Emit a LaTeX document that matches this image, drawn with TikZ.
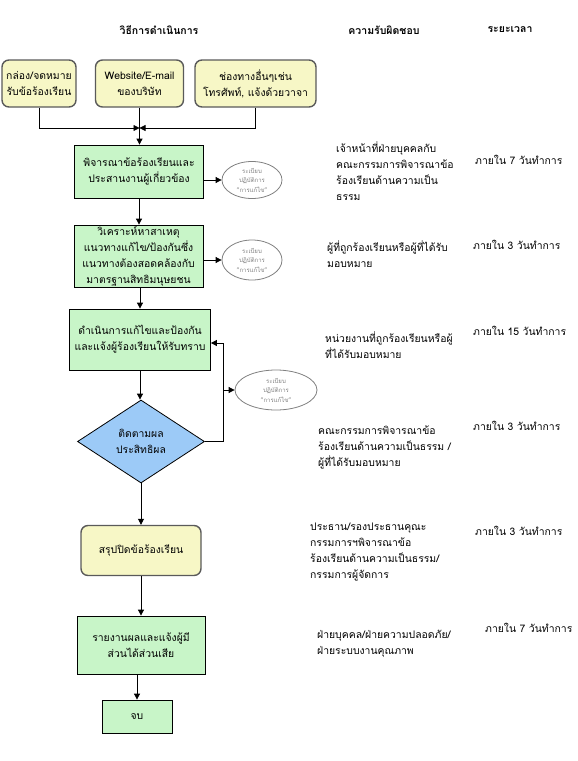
\documentclass[tikz,border=0pt]{standalone}
\usepackage{fontspec}
\setmainfont[Script=Thai]{Loma}
\usetikzlibrary{arrows.meta,shapes.geometric}
\definecolor{pgreen}{HTML}{C8F5C8}
\definecolor{pyellow}{HTML}{F7F7C6}
\definecolor{pblue}{HTML}{9CCAF7}
\definecolor{pborder}{HTML}{5A5A5A}
\definecolor{etext}{HTML}{808080}
\begin{document}
\begin{tikzpicture}[x=1pt,y=-1pt,
  every node/.style={font=\fontsize{10.4}{16}\selectfont, inner sep=0pt, align=center},
  proc/.style={draw=black, fill=pgreen, line width=0.8pt},
  startbox/.style={draw=pborder, fill=pyellow, line width=1.4pt, rounded corners=7pt},
  decision/.style={diamond, draw=black, fill=pblue, line width=0.8pt, minimum width=127pt, minimum height=83pt},
  regell/.style={ellipse, draw=gray, fill=white, line width=0.8pt, font=\fontsize{6}{9.5}\selectfont\color{etext}},
  head/.style={font=\fontsize{10.5}{12}\selectfont\bfseries},
  resp/.style={anchor=north west, align=left},
  timetxt/.style={anchor=north west, align=left},
  arr/.style={-{Triangle[length=6pt,width=6pt]}, line width=0.8pt},
  plain/.style={line width=0.8pt}]
\useasboundingbox (0,0) rectangle (578,761);

% headers
\node[head] (h1) at (159,30) {วิธีการดำเนินการ};
\node[head] (h2) at (384,30) {ความรับผิดชอบ};
\node[head] (h3) at (510,30) {ระยะเวลา};

% channel boxes
\node[startbox, minimum width=74pt, minimum height=47pt] (b1) at (39,83.5) {กล่อง/จดหมาย\\รับข้อร้องเรียน};
\node[startbox, minimum width=88pt, minimum height=47pt] (b2) at (139.5,83.5) {Website/E-mail\\ของบริษัท};
\node[startbox, minimum width=121pt, minimum height=47pt] (b3) at (255.5,83.5) {ช่องทางอื่นๆเช่น\\โทรศัพท์, แจ้งด้วยวาจา};

% process
\node[proc, minimum width=129pt, minimum height=53pt] (b4) at (139,171.5) {พิจารณาข้อร้องเรียนและ\\ประสานงานผู้เกี่ยวข้อง};
\node[proc, minimum width=129pt, minimum height=62pt] (b5) at (138.5,256) {วิเคราะห์หาสาเหตุ\\แนวทางแก้ไข/ป้องกันซึ่ง\\แนวทางต้องสอดคล้องกับ\\มาตรฐานสิทธิมนุษยชน};
\node[proc, minimum width=141pt, minimum height=61pt] (b6) at (140,339.5) {ดำเนินการแก้ไขและป้องกัน\\และแจ้งผู้ร้องเรียนให้รับทราบ};
\node[decision] (d1) at (141,441.5) {ติดตามผล\\ประสิทธิผล};
\node[startbox, minimum width=120pt, minimum height=50pt] (b7) at (141,550.5) {สรุปปิดข้อร้องเรียน};
\node[proc, minimum width=128pt, minimum height=58pt] (b8) at (141,645) {รายงานผลและแจ้งผู้มี\\ส่วนได้ส่วนเสีย};
\node[proc, minimum width=70pt, minimum height=33pt] (b9) at (137,716.5) {จบ};

% regulation ellipses
\node[regell, minimum width=60pt, minimum height=37pt] (e1) at (252,180) {ระเบียบ\\ปฏิบัติการ\\"การแก้ไข"};
\node[regell, minimum width=60pt, minimum height=40pt] (e2) at (252,260) {ระเบียบ\\ปฏิบัติการ\\"การแก้ไข"};
\node[regell, minimum width=82pt, minimum height=40pt] (e3) at (276,390) {ระเบียบ\\ปฏิบัติการ\\"การแก้ไข"};

% merging connectors
\coordinate (m) at (139.5,128);
\draw[arr] (b1.south) |- (m);
\draw[arr] (b3.south) |- (m);
\draw[plain] (b2.south) -- (m);
\draw[arr] (m) -- (m |- b4.north);

% main flow
\draw[arr] (b4.south) -- (b4.south |- b5.north);
\draw[arr] (b5.south -| b6.north) -- (b6.north);
\draw[arr] (b6.south) -- (b6.south |- d1.north);
\draw[arr] (d1.south) -- (d1.south |- b7.north);
\draw[arr] (b7.south) -- (b7.south |- b8.north);
\draw[arr] (b8.south -| b9.north) -- (b9.north);

% to ellipses
\draw[arr] (b4.east |- e1.west) -- (e1.west);
\draw[arr] (b5.east |- e2.west) -- (e2.west);

% feedback loop
\coordinate (lp) at (223,441.5);
\coordinate (lq) at (223,343);
\coordinate (lr) at (223,390);
\draw[plain] (d1.east) -- (lp);
\draw[arr] (lp) -- (lq) -- (lq -| b6.east);
\draw[arr] (lr) -- (e3.west);

% responsibilities
\node[resp] (r1) at (336,142) {เจ้าหน้าที่ฝ่ายบุคคลกับ\\คณะกรรมการพิจารณาข้อ\\ร้องเรียนด้านความเป็น\\ธรรม};
\node[resp] (r2) at (327,241) {ผู้ที่ถูกร้องเรียนหรือผู้ที่ได้รับ\\มอบหมาย};
\node[resp] (r3) at (325,332) {หน่วยงานที่ถูกร้องเรียนหรือผู้\\ที่ได้รับมอบหมาย};
\node[resp] (r4) at (318,426) {คณะกรรมการพิจารณาข้อ\\ร้องเรียนด้านความเป็นธรรม /\\ผู้ที่ได้รับมอบหมาย};
\node[resp] (r5) at (310,523) {ประธาน/รองประธานคุณะ\\กรรมการฯพิจารณาข้อ\\ร้องเรียนด้านความเป็นธรรม/\\กรรมการผู้จัดการ};
\node[resp] (r6) at (317,630) {ฝ่ายบุคคล/ฝ่ายความปลอดภัย/\\ฝ่ายระบบงานคุณภาพ};

% time frames
\node[timetxt] (t1) at (475,155) {ภายใน 7 วันทำการ};
\node[timetxt] (t2) at (473,240) {ภายใน 3 วันทำการ};
\node[timetxt] (t3) at (473,326) {ภายใน 15 วันทำการ};
\node[timetxt] (t4) at (473,421) {ภายใน 3 วันทำการ};
\node[timetxt] (t5) at (475,526) {ภายใน 3 วันทำการ};
\node[timetxt] (t6) at (485,623) {ภายใน 7 วันทำการ};
\end{tikzpicture}
\end{document}
